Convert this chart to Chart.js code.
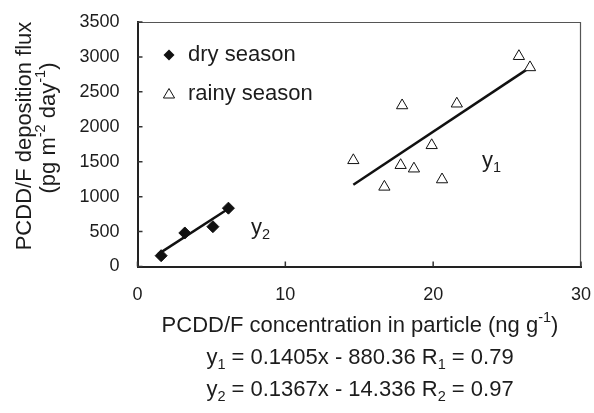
<!DOCTYPE html>
<html>
<head>
<meta charset="utf-8">
<script src="https://cdn.jsdelivr.net/npm/chart.js@4.4.0/dist/chart.umd.min.js"></script>
<style>
  html, body { margin: 0; padding: 0; background: #fff; }
  #wrap { width: 594px; height: 413px; position: relative; }
</style>
</head>
<body>
<div id="wrap"><canvas id="fluxChart"></canvas></div>
<script>
// particle concentration (ng/g) vs deposition flux (pg m-2 day-1)
const dryX = [1.6, 3.2, 5.1, 6.15];
const dryY = [155, 480, 570, 835];
const rainyX = [14.6, 16.7, 17.9, 17.8, 18.7, 19.9, 20.6, 21.6, 25.8, 26.55];
const rainyY = [1520, 1140, 2305, 1450, 1400, 1735, 1245, 2330, 3010, 2850];

// regression y = a*x(pg/g) + b, drawn over the span of each season
const fitRainy = { a: 0.1405, b: -880.36, from: 14.6, to: 26.5 };
const fitDry = { a: 0.1367, b: -14.336, from: 1.4, to: 6.25 };

const xTicks = [0, 10, 20, 30];
const yTicks = [0, 500, 1000, 1500, 2000, 2500, 3000, 3500];

const FONT = '"Liberation Sans", Arial, Helvetica, sans-serif';
const INK = '#1c1c1c';
const TXT = 22;

function pts(xs, ys) { return xs.map((x, i) => ({ x: x, y: ys[i] })); }
function fitLine(f) {
    return [f.from, f.to].map(x => ({ x: x, y: f.a * x * 1000 + f.b }));
}

// text with sub/superscript pieces: [text, shift] shift -1 sub, 1 sup
function richWidth(ctx, parts, size) {
    let w = 0;
    parts.forEach(p => {
        ctx.font = (p[1] ? size * 0.66 : size) + 'px ' + FONT;
        w += ctx.measureText(p[0]).width;
    });
    return w;
}
function drawRich(ctx, parts, cx, cy, size, align) {
    const w = richWidth(ctx, parts, size);
    let x = align === 'left' ? cx : cx - w / 2;
    ctx.textBaseline = 'middle';
    ctx.textAlign = 'left';
    ctx.fillStyle = INK;
    parts.forEach(p => {
        let dy = 0;
        if (p[1] === -1) dy = size * 0.32;
        if (p[1] === 1) dy = -size * 0.36;
        ctx.font = (p[1] ? size * 0.66 : size) + 'px ' + FONT;
        ctx.fillText(p[0], x, cy + dy);
        x += ctx.measureText(p[0]).width;
    });
}

const decorPlugin = {
    id: 'decor',
    afterDraw(chart) {
        const ctx = chart.ctx;
        const a = chart.chartArea;
        const xs = chart.scales.x, ys = chart.scales.y;
        ctx.save();

        // thin top / right frame
        ctx.strokeStyle = '#555';
        ctx.lineWidth = 1.2;
        ctx.beginPath();
        ctx.moveTo(a.left, a.top + 0.5);
        ctx.lineTo(a.right - 0.5, a.top + 0.5);
        ctx.lineTo(a.right - 0.5, a.bottom);
        ctx.stroke();

        // inward tick marks
        ctx.strokeStyle = '#333';
        ctx.lineWidth = 1.5;
        ctx.beginPath();
        yTicks.forEach(v => {
            const y = ys.getPixelForValue(v);
            ctx.moveTo(a.left, y);
            ctx.lineTo(a.left + 5, y);
        });
        xTicks.forEach(v => {
            const x = xs.getPixelForValue(v);
            ctx.moveTo(x, a.bottom);
            ctx.lineTo(x, a.bottom - 5);
        });
        ctx.stroke();

        // legend
        const lx = 169;
        ctx.fillStyle = '#111';
        ctx.beginPath();
        ctx.moveTo(lx - 5.5, 55); ctx.lineTo(lx, 49.5); ctx.lineTo(lx + 5.5, 55); ctx.lineTo(lx, 60.5);
        ctx.closePath();
        ctx.fill();
        ctx.strokeStyle = '#111';
        ctx.lineWidth = 1;
        ctx.beginPath();
        ctx.moveTo(lx, 88.5); ctx.lineTo(lx + 5.6, 98); ctx.lineTo(lx - 5.6, 98);
        ctx.closePath();
        ctx.fillStyle = '#fff';
        ctx.fill();
        ctx.stroke();
        drawRich(ctx, [['dry season', 0]], 188, 55, TXT, 'left');
        drawRich(ctx, [['rainy season', 0]], 188, 94, TXT, 'left');

        // fit labels
        drawRich(ctx, [['y', 0], ['2', -1]], 251, 228, TXT, 'left');
        drawRich(ctx, [['y', 0], ['1', -1]], 482, 161, TXT, 'left');

        // axis titles
        drawRich(ctx, [['PCDD/F concentration in particle (ng g', 0], ['-1', 1], [')', 0]], 360, 326, TXT);
        drawRich(ctx, [['y', 0], ['1', -1], [' = 0.1405x - 880.36 R', 0], ['1', -1], [' = 0.79', 0]], 360, 358, TXT);
        drawRich(ctx, [['y', 0], ['2', -1], [' = 0.1367x - 14.336 R', 0], ['2', -1], [' = 0.97', 0]], 360, 390, TXT);

        ctx.translate(25, 0);
        ctx.rotate(-Math.PI / 2);
        drawRich(ctx, [['PCDD/F deposition flux', 0]], -136, 0, TXT);
        drawRich(ctx, [['(pg m', 0], ['-2', 1], [' day', 0], ['-1', 1], [')', 0]], -128, 24, TXT);
        ctx.restore();
    }
};

new Chart(document.getElementById('fluxChart'), {
    type: 'scatter',
    data: {
        datasets: [
            {
                label: 'dry season',
                data: pts(dryX, dryY),
                pointStyle: 'rectRot',
                pointRadius: 6,
                backgroundColor: '#111',
                borderColor: '#111',
                borderWidth: 1,
                order: 1
            },
            {
                label: 'rainy season',
                data: pts(rainyX, rainyY),
                pointStyle: 'triangle',
                pointRadius: 6.5,
                backgroundColor: '#fff',
                borderColor: '#111',
                borderWidth: 1,
                order: 1
            },
            {
                type: 'line',
                label: 'y1',
                data: fitLine(fitRainy),
                borderColor: '#111',
                borderWidth: 2.5,
                pointRadius: 0,
                order: 2
            },
            {
                type: 'line',
                label: 'y2',
                data: fitLine(fitDry),
                borderColor: '#111',
                borderWidth: 2.5,
                pointRadius: 0,
                order: 2
            }
        ]
    },
    options: {
        responsive: true,
        maintainAspectRatio: false,
        animation: false,
        layout: { padding: { top: 22, right: 13, left: 0, bottom: 0 } },
        plugins: {
            legend: { display: false },
            tooltip: { enabled: false }
        },
        scales: {
            x: {
                type: 'linear',
                min: 0,
                max: 30,
                afterBuildTicks: s => { s.ticks = xTicks.map(v => ({ value: v })); },
                afterFit: s => { s.height = 146.5; s.paddingLeft = 0; s.paddingRight = 0; },
                grid: { display: false, drawTicks: false },
                border: { display: true, color: '#222', width: 2 },
                ticks: {
                    color: INK, padding: 18, font: { family: FONT, size: 18 },
                    callback: v => String(v)
                }
            },
            y: {
                type: 'linear',
                min: 0,
                max: 3500,
                afterBuildTicks: s => { s.ticks = yTicks.map(v => ({ value: v })); },
                afterFit: s => { s.width = 137.5; s.paddingTop = 0; s.paddingBottom = 0; },
                grid: { display: false, drawTicks: false },
                border: { display: true, color: '#222', width: 2 },
                ticks: {
                    color: INK, padding: 18, font: { family: FONT, size: 18 },
                    callback: v => String(v)
                }
            }
        }
    },
    plugins: [decorPlugin]
});
</script>
</body>
</html>
